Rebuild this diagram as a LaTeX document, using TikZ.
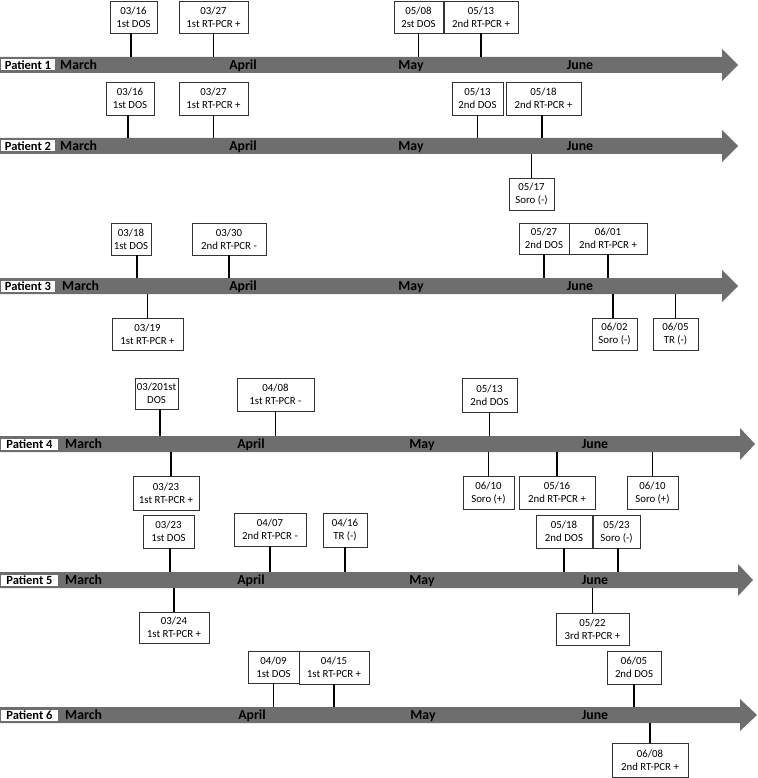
\documentclass[tikz,border=0pt]{standalone}
\usepackage{fontspec}
\setmainfont{Carlito}
\definecolor{bandgray}{HTML}{6E6E6E}
\newcommand\evfont{\fontsize{10.8}{13}\selectfont}
\tikzset{
  ev/.style={draw=black!80, line width=0.8pt, fill=white, inner sep=0pt, align=center, font=\evfont},
  conn/.style={draw=black, line width=1.6pt},
  mon/.style={inner sep=0pt, font=\fontsize{13.8}{14}\selectfont\bfseries},
  pat/.style={inner sep=0pt, font=\fontsize{12.5}{13}\selectfont\bfseries}
}
% #1 name, #2 center y, #3 base x, #4 tip x, #5 label right, #6 number
\newcommand\ptband[6]{%
  \fill[bandgray] (0,#2-8) -- (#3,#2-8) -- (#3,#2-16) -- (#4,#2) -- (#3,#2+16) -- (#3,#2+8) -- (0,#2+8) -- cycle;
  \fill[white] (1,#2-5.5) rectangle (#5-2,#2+5.5);
  \node[pat, anchor=base] (#1) at ({(#5-1)/2},#2+4.2) {Patient #6};
  \coordinate (#1t) at (0,#2-8);
  \coordinate (#1b) at (0,#2+8);
}
% #1 row name, #2 center y, #3 march x, #4 april, #5 may, #6 june
\newcommand\ptmonths[6]{%
  \node[mon, anchor=base west] (#1mar) at (#3,#2+4.4) {March};
  \node[mon, anchor=base] (#1apr) at (#4,#2+4.4) {April};
  \node[mon, anchor=base] (#1may) at (#5,#2+4.4) {May};
  \node[mon, anchor=base] (#1jun) at (#6,#2+4.4) {June};
}
% box above band: name, cx, cy, w, h, text, line shift, band coordinate
\newcommand\evu[8]{%
  \node[ev, minimum width=#4pt, minimum height=#5pt] (#1) at (#2,#3) {#6};
  \coordinate (#1c) at ([xshift=#7pt]#1.south);
  \draw[conn] (#1c) -- (#1c |- #8);
}
% box below band
\newcommand\evd[8]{%
  \node[ev, minimum width=#4pt, minimum height=#5pt] (#1) at (#2,#3) {#6};
  \coordinate (#1c) at ([xshift=#7pt]#1.north);
  \draw[conn] (#1c) -- (#1c |- #8);
}
\begin{document}
\begin{tikzpicture}[x=1pt,y=-1pt]
\useasboundingbox (0,0) rectangle (757,778);

% bands
\ptband{p1}{65}{722}{738}{57}{1}
\ptband{p2}{146}{722}{738}{57}{2}
\ptband{p3}{286}{722}{738}{57}{3}
\ptband{p4}{444}{740}{755}{60}{4}
\ptband{p5}{580}{738}{753}{60}{5}
\ptband{p6}{715}{740}{757}{60}{6}

\ptmonths{p1}{65}{60}{243}{411}{580}
\ptmonths{p2}{146}{60}{243}{411}{580}
\ptmonths{p3}{286}{62}{243}{411}{580}
\ptmonths{p4}{444}{65}{251}{422}{595}
\ptmonths{p5}{580}{65}{251}{422}{595}
\ptmonths{p6}{715}{65}{252}{423}{595}

% Patient 1
\evu{a1}{133.5}{17}{47}{32}{03/16\\1st DOS}{-2.5}{p1t}
\evu{a2}{213.5}{17}{69}{32}{03/27\\1st RT-PCR +}{0}{p1t}
\evu{a3}{418.5}{17}{49}{32}{05/08\\2st DOS}{0}{p1t}
\evu{a4}{481}{17}{74}{32}{05/13\\2nd RT-PCR +}{0}{p1t}

% Patient 2
\evu{b1}{130}{98.5}{48}{33}{03/16\\1st DOS}{-2}{p2t}
\evu{b2}{213.5}{98.5}{69}{33}{03/27\\1st RT-PCR +}{0}{p2t}
\evu{b3}{477.5}{98.5}{51}{33}{05/13\\2nd DOS}{0}{p2t}
\evu{b4}{543.5}{98.5}{75}{33}{05/18\\2nd RT-PCR +}{-1.5}{p2t}
\evd{b5}{531.5}{194}{45}{32}{05/17\\Soro (-)}{0}{p2b}

% Patient 3
\evu{c1}{131}{239}{40}{32}{03/18\\1st DOS}{6}{p3t}
\evu{c2}{229}{239}{74}{32}{03/30\\2nd RT-PCR -}{0}{p3t}
\evu{c3}{544}{238.5}{50}{31}{05/27\\2nd DOS}{0}{p3t}
\evu{c4}{608}{238.5}{78}{31}{06/01\\2nd RT-PCR +}{0}{p3t}
\evd{c5}{147.5}{334}{71}{32}{03/19\\1st RT-PCR +}{0}{p3b}
\evd{c6}{614.5}{334}{45}{32}{06/02\\Soro (-)}{-1.5}{p3b}
\evd{c7}{675.5}{334}{45}{32}{06/05\\TR (-)}{0}{p3b}

% Patient 4
\evu{d1}{156.5}{393.5}{43}{31}{03/201st\\DOS}{3.5}{p4t}
\evu{d2}{275.5}{394.5}{77}{33}{04/08\\1st RT-PCR -}{0}{p4t}
\evu{d3}{489.5}{395}{55}{34}{05/13\\2nd DOS}{0}{p4t}
\evd{d4}{166}{493}{66}{34}{03/23\\1st RT-PCR +}{5}{p4b}
\evd{d5}{488.5}{492.5}{51}{33}{06/10\\Soro (+)}{0}{p4b}
\evd{d6}{557}{492.5}{76}{33}{05/16\\2nd RT-PCR +}{0}{p4b}
\evd{d7}{652.5}{492.5}{51}{33}{06/10\\Soro (+)}{0}{p4b}

% Patient 5
\evu{e1}{168.5}{531.5}{51}{33}{03/23\\1st DOS}{1.5}{p5t}
\evu{e2}{270}{529.5}{72}{33}{04/07\\2nd RT-PCR -}{0}{p5t}
\evu{e3}{345}{530}{44}{34}{04/16\\TR (-)}{0}{p5t}
\evu{e4}{564}{531.5}{56}{33}{05/18\\2nd DOS}{0}{p5t}
\evu{e5}{616.5}{531.5}{47}{33}{05/23\\Soro (-)}{1.5}{p5t}
\evd{e6}{174}{627.5}{70}{31}{03/24\\1st RT-PCR +}{0}{p5b}
\evd{e7}{592.5}{629}{73}{32}{05/22\\3rd RT-PCR +}{0}{p5b}

% Patient 6
\evu{f1}{273.5}{667}{51}{32}{04/09\\1st DOS}{0}{p6t}
\evu{f2}{334}{667.5}{70}{33}{04/15\\1st RT-PCR +}{0}{p6t}
\evu{f3}{634}{667.5}{54}{33}{06/05\\2nd DOS}{0}{p6t}
\evd{f4}{650}{760}{76}{34}{06/08\\2nd RT-PCR +}{0}{p6b}
\end{tikzpicture}
\end{document}
